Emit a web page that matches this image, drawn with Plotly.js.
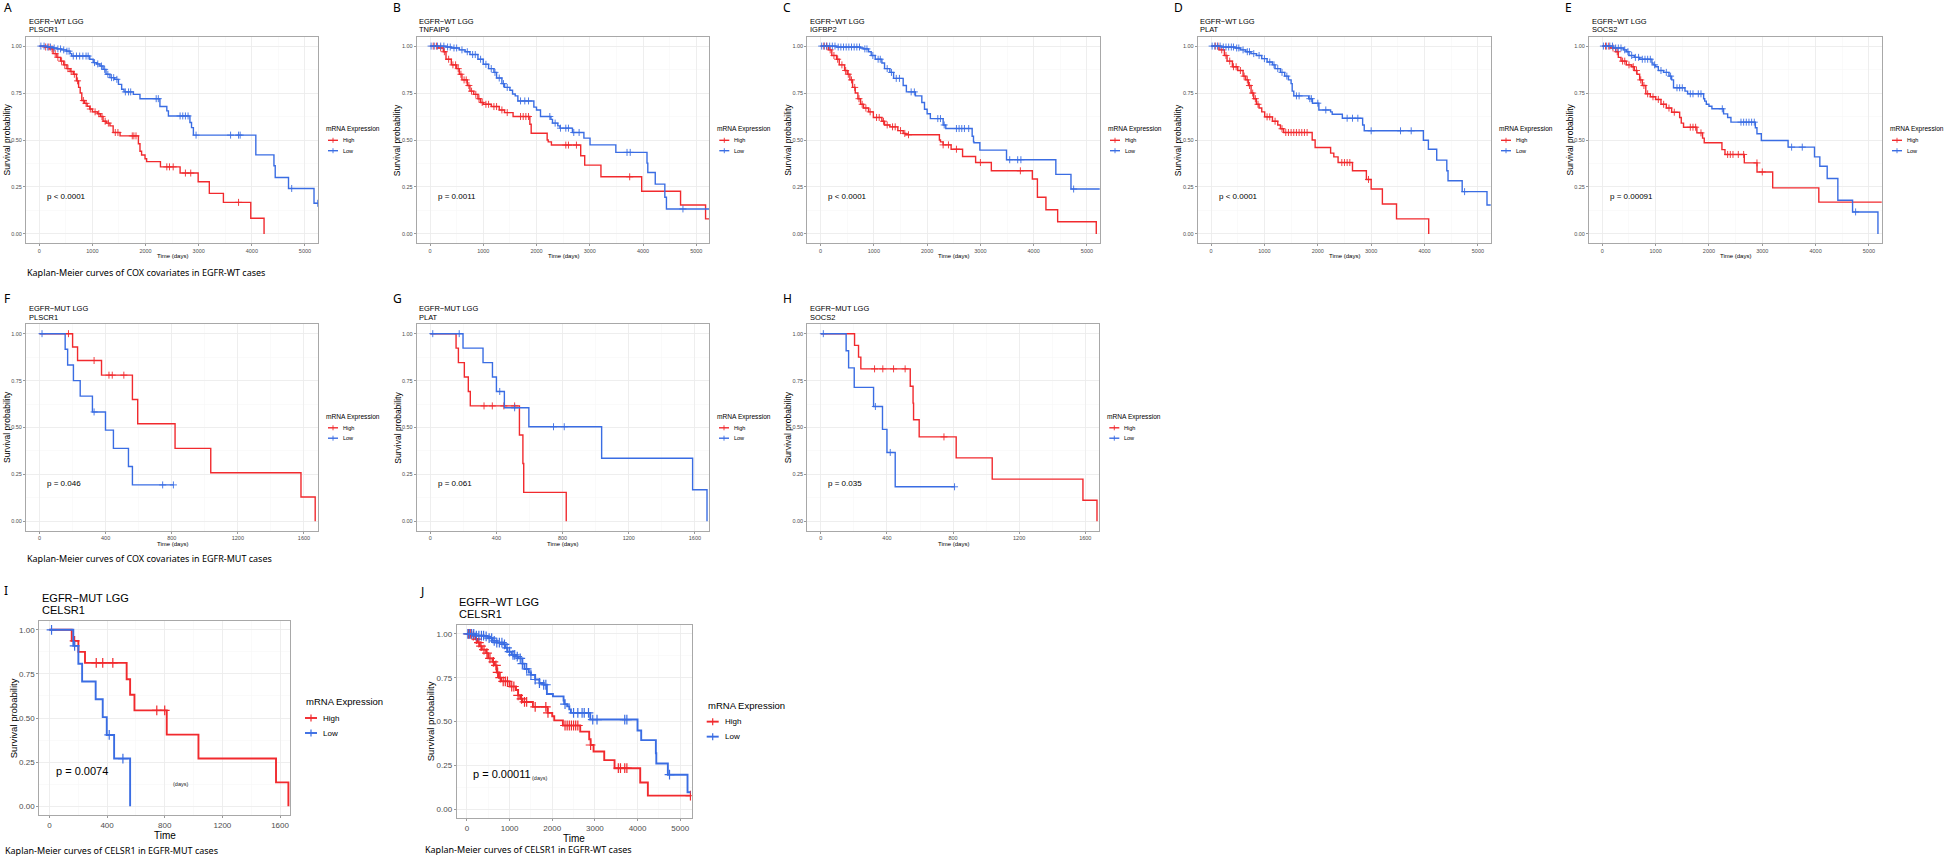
<!DOCTYPE html>
<html><head><meta charset="utf-8">
<script src="https://cdn.plot.ly/plotly-3.0.1.min.js"></script>
<style>html,body{margin:0;padding:0;background:#fff;}#chart{width:1946px;height:857px;}</style>
</head><body><div id="chart"></div>
<script>
// ---------------- DATA ----------------
const yTickVals = [0, 0.25, 0.5, 0.75, 1];
const yTickText = ['0.00', '0.25', '0.50', '0.75', '1.00'];
const xTicksWT = [0, 1000, 2000, 3000, 4000, 5000];
const xTicksMUT = [0, 400, 800, 1200, 1600];
const groupLabels = ['EGFR−WT LGG', 'EGFR−MUT LGG'];
const genes = ['PLSCR1', 'TNFAIP6', 'IGFBP2', 'PLAT', 'SOCS2', 'PLSCR1', 'PLAT', 'SOCS2', 'CELSR1', 'CELSR1'];
const pValues = ['p < 0.0001', 'p = 0.0011', 'p < 0.0001', 'p < 0.0001', 'p = 0.00091', 'p = 0.046', 'p = 0.061', 'p = 0.035', 'p = 0.0074', 'p = 0.00011'];
const seriesNames = ['High', 'Low'];
const captions = ['Kaplan-Meier curves of COX covariates in EGFR-WT cases', 'Kaplan-Meier curves of COX covariates in EGFR-MUT cases', 'Kaplan-Meier curves of CELSR1 in EGFR-MUT cases', 'Kaplan-Meier curves of CELSR1 in EGFR-WT cases'];
const panelLetters = ['A','B','C','D','E','F','G','H','I','J'];

// A: EGFR-WT PLSCR1
const aHighT = [0,100,200,260,330,400,460,520,580,640,700,740,770,800,850,900,950,1000,1100,1150,1200,1260,1330,1390,1520,1865,1895,1925,1990,2020,2280,2650,2990,3200,3465,3980,4230];
const aHighS = [1,0.995,0.985,0.96,0.94,0.92,0.90,0.88,0.865,0.85,0.815,0.78,0.75,0.71,0.695,0.68,0.665,0.65,0.64,0.625,0.60,0.59,0.575,0.54,0.522,0.48,0.44,0.42,0.40,0.385,0.357,0.324,0.278,0.216,0.168,0.083,0];
const aHighC = [120,180,240,300,350,420,480,540,600,660,720,830,880,960,1050,1120,1180,1240,1300,1430,1480,1750,1780,1820,2400,2450,2520,2750,2850,3750];
const aLowT = [0,150,260,330,420,510,580,610,950,1015,1080,1140,1200,1255,1330,1420,1490,1550,1595,1770,1895,2270,2400,2430,2835,2865,2900,4075,4416,4440,4690,5170,5240];
const aLowS = [1,0.995,0.99,0.985,0.98,0.973,0.96,0.947,0.93,0.912,0.905,0.894,0.876,0.85,0.832,0.823,0.796,0.77,0.756,0.743,0.72,0.678,0.655,0.628,0.593,0.566,0.526,0.421,0.363,0.30,0.242,0.163,0.163];
const aLowC = [30,90,160,210,280,350,400,460,520,560,640,700,760,820,880,920,1040,1100,1170,1230,1290,1360,1400,1460,1620,1680,1720,2200,2240,2650,2700,2750,2800,2950,3600,3750,3780,4750,5240];

// B: EGFR-WT TNFAIP6
const bHighT = [0,150,250,300,400,500,550,600,700,750,820,900,950,1000,1150,1300,1400,1560,1875,1900,2200,2220,2280,2830,2905,3210,3975,4705,5175,5240];
const bHighS = [1,0.99,0.97,0.93,0.90,0.88,0.85,0.82,0.79,0.76,0.743,0.72,0.70,0.69,0.678,0.66,0.646,0.625,0.584,0.536,0.50,0.49,0.473,0.416,0.366,0.304,0.227,0.154,0.08,0.08];
const bHighC = [60,120,200,270,350,430,480,530,580,640,680,730,780,860,920,980,1050,1100,1200,1250,1350,1450,1700,1750,1800,1850,2550,2600,2750,3750];
const bLowT = [0,300,400,550,660,750,900,1000,1100,1200,1250,1350,1400,1500,1550,1600,1650,1950,2000,2075,2270,2300,2400,2440,2675,2890,3005,3490,4075,4090,4230,4410,4440,5240];
const bLowS = [1,0.995,0.99,0.98,0.97,0.955,0.93,0.903,0.88,0.86,0.83,0.80,0.78,0.765,0.745,0.735,0.708,0.675,0.66,0.625,0.61,0.59,0.575,0.563,0.54,0.51,0.474,0.434,0.377,0.327,0.265,0.195,0.133,0.133];
const bLowC = [20,80,140,200,260,330,380,450,500,600,700,800,850,950,1050,1150,1220,1300,1380,1450,1700,1780,1850,2250,2350,2450,2550,2600,2700,2800,3700,3760,4750];

// C: EGFR-WT IGFBP2
const cHighT = [0,150,210,300,350,450,500,550,600,650,700,750,805,900,990,1150,1200,1300,1450,1550,1600,2230,2250,2300,2450,2665,2910,3205,3975,4070,4230,4450,5175];
const cHighS = [1,0.98,0.95,0.93,0.90,0.87,0.85,0.82,0.78,0.75,0.72,0.69,0.67,0.65,0.62,0.60,0.58,0.57,0.55,0.535,0.528,0.50,0.49,0.474,0.451,0.412,0.38,0.336,0.292,0.195,0.129,0.065,0];
const cHighC = [60,110,180,250,320,400,470,520,580,640,720,780,850,930,1050,1100,1180,1250,1350,1400,1500,1580,1650,2300,2400,2550,3000,3750];
const cLowT = [0,300,750,800,900,950,1025,1150,1200,1300,1370,1550,1610,1780,1900,1950,2000,2060,2300,2350,2845,2870,2880,2990,3490,4416,4700,5240];
const cLowS = [1,0.995,0.99,0.985,0.97,0.95,0.93,0.91,0.88,0.86,0.828,0.79,0.756,0.735,0.70,0.664,0.64,0.614,0.58,0.561,0.52,0.49,0.485,0.446,0.395,0.317,0.239,0.239];
const cLowC = [20,70,120,170,220,270,330,380,430,480,530,580,630,680,730,830,870,980,1080,1120,1250,1330,1420,1480,1700,1760,2200,2250,2320,2550,2600,2650,2700,2780,3550,3700,3760,4750];

// D: EGFR-WT PLAT
const dHighT = [0,150,250,300,400,500,600,650,700,750,800,850,900,950,1005,1150,1250,1300,1360,1895,1950,2240,2300,2380,2650,2910,3000,3210,3475,4078];
const dHighS = [1,0.98,0.95,0.92,0.89,0.87,0.84,0.82,0.79,0.75,0.72,0.69,0.67,0.65,0.623,0.60,0.58,0.56,0.54,0.50,0.46,0.43,0.41,0.38,0.336,0.29,0.239,0.159,0.08,0];
const dHighC = [80,130,200,280,350,420,470,550,620,680,720,780,830,880,1050,1100,1200,1330,1400,1450,1500,1550,1600,1650,1700,1750,1800,2450,2500,2550,2600,2950];
const dLowT = [0,200,450,550,650,750,850,950,1050,1150,1200,1300,1380,1450,1500,1520,1550,1830,1900,2020,2240,2270,2460,2840,2870,3978,4072,4228,4417,4440,4705,5170,5240];
const dLowS = [1,0.995,0.99,0.98,0.97,0.96,0.95,0.933,0.915,0.90,0.88,0.86,0.84,0.82,0.80,0.76,0.735,0.72,0.696,0.66,0.65,0.637,0.616,0.58,0.549,0.499,0.451,0.393,0.336,0.283,0.225,0.154,0.154];
const dLowC = [20,70,120,170,230,280,330,380,420,480,520,600,680,720,800,900,1000,1100,1180,1250,1330,1420,1600,1650,1850,1880,2000,2150,2550,2650,2750,3000,3550,3750,4750];

// E: EGFR-WT SOCS2
const eHighT = [0,150,250,300,350,450,550,600,650,700,750,815,900,1000,1100,1200,1300,1450,1480,1523,1773,1880,1911,2243,2300,2663,2901,3195,4060,5240];
const eHighS = [1,0.99,0.97,0.94,0.92,0.90,0.89,0.87,0.85,0.82,0.79,0.746,0.73,0.716,0.69,0.67,0.648,0.62,0.59,0.568,0.538,0.51,0.485,0.449,0.423,0.378,0.33,0.245,0.169,0.169];
const eHighC = [60,120,200,280,380,420,500,580,640,720,780,850,950,1050,1150,1250,1350,1650,1700,1750,1850,2350,2400,2450,2550,2650,2900,3000];
const eLowT = [0,200,400,450,500,600,700,930,950,1000,1050,1150,1250,1300,1335,1550,1600,1900,1920,1950,2000,2055,2274,2350,2412,2870,2900,2982,3484,3979,4079,4217,4417,4693,5169];
const eLowS = [1,0.99,0.98,0.97,0.95,0.94,0.93,0.91,0.90,0.89,0.87,0.86,0.84,0.82,0.778,0.76,0.746,0.72,0.707,0.69,0.68,0.666,0.639,0.62,0.595,0.565,0.533,0.497,0.462,0.41,0.36,0.295,0.179,0.117,0];
const eLowC = [20,80,140,190,250,300,350,420,480,550,620,680,750,800,850,900,980,1100,1200,1280,1400,1450,1500,1650,1700,1800,1850,2250,2600,2650,2700,2750,2800,2850,3550,3750,4750];

// F: EGFR-MUT PLSCR1
const fHighT = [0,200,230,375,562,594,820,1036,1582,1668];
const fHighS = [1,0.929,0.857,0.779,0.649,0.52,0.389,0.259,0.13,0];
const fHighC = [175,330,420,440,510];
const fLowT = [0,155,170,205,246,320,399,447,538,562,810];
const fLowS = [1,0.917,0.833,0.75,0.667,0.583,0.486,0.389,0.292,0.194,0.194];
const fLowC = [15,330,745,810];

// G: EGFR-MUT PLAT
const gHighT = [0,156,170,206,230,242,539,560,565,822];
const gHighS = [1,0.923,0.846,0.769,0.692,0.615,0.46,0.308,0.154,0];
const gHighC = [325,375,445,510];
const gLowT = [0,198,319,376,400,448,596,1036,1586,1673];
const gLowS = [1,0.923,0.846,0.769,0.692,0.605,0.504,0.336,0.168,0];
const gLowC = [15,175,420,510,745,810];

// H: EGFR-MUT SOCS2
const hHighT = [0,204,228,242,541,558,561,595,819,1037,1586,1671];
const hHighS = [1,0.9375,0.875,0.8125,0.72,0.63,0.541,0.45,0.338,0.225,0.112,0];
const hHighC = [325,375,440,510,745];
const hLowT = [0,153,168,202,319,373,400,450,809];
const hLowS = [1,0.909,0.818,0.714,0.612,0.49,0.367,0.184,0.184];
const hLowC = [15,330,420,809];

// I: EGFR-MUT CELSR1
const iHighT = [0,155,201,247,536,560,590,814,1034,1572,1658];
const iHighS = [1,0.9375,0.875,0.8125,0.72,0.632,0.543,0.406,0.27,0.135,0];
const iHighC = [175,325,370,440,745,800];
const iLowT = [0,166,201,227,321,370,398,449,560];
const iLowS = [1,0.909,0.808,0.707,0.606,0.505,0.404,0.27,0];
const iLowC = [15,175,415,510];

// J: EGFR-WT CELSR1
const jHighT = [0,100,200,250,300,350,450,500,600,650,700,750,800,1000,1150,1200,1250,1300,1547,1891,2000,2047,2250,2656,2867,2900,2969,3219,3461,4063,4242,5240];
const jHighS = [1,0.99,0.97,0.95,0.93,0.91,0.89,0.86,0.84,0.82,0.78,0.75,0.729,0.70,0.68,0.65,0.63,0.612,0.584,0.55,0.531,0.507,0.478,0.443,0.40,0.367,0.33,0.281,0.235,0.154,0.079,0.079];
const jHighC = [40,90,150,220,280,330,400,470,540,620,680,720,780,850,900,950,1050,1100,1200,1280,1350,1400,1600,1850,1900,2300,2350,2400,2450,2500,2550,2600,2900,3550,3600,3700,3750,5240];
const jLowT = [0,200,400,500,600,700,860,900,950,1050,1150,1200,1300,1350,1450,1500,1600,1700,1800,1875,2016,2266,2280,2350,2400,2438,2891,4000,4086,4430,4440,4711,5172,5240];
const jLowS = [1,0.99,0.985,0.975,0.96,0.95,0.94,0.92,0.898,0.88,0.87,0.86,0.83,0.80,0.78,0.766,0.74,0.72,0.71,0.657,0.644,0.62,0.60,0.588,0.57,0.55,0.512,0.45,0.395,0.32,0.262,0.198,0.098,0.098];
const jLowC = [20,60,110,160,220,280,340,390,450,520,580,640,700,760,820,880,940,1000,1080,1120,1180,1250,1300,1400,1500,1600,1700,1800,1850,2300,2500,2600,2700,2750,2850,2950,3050,3700,3750,4750];

// ---------------- LAYOUT / STYLE ----------------
const W = 1946, H = 857;
const RED = '#F12A2E', BLUE = '#3A6DE3';
const FONT = 'Liberation Sans, Arial, sans-serif';
const CAPFONT = 'Noto Sans, Open Sans, sans-serif';
const SMALL = {lw:1.4, ms:5, mw:0.9, tick:5.5, xt:6, yt:8.5, title:7.5, lgT:6.6, lgI:5.5, p:8, xtOff:13, ytOff:19.5,
  lg:{tx:6,k0:10,k1:20,txt:22.7,dyT:-10.7,dyH:0.3,dyL:10.7,plus:2.5}, titleDy:[-15.5,-7]};
const BIG = {lw:1.9, ms:7, mw:1.2, tick:8, xt:10, yt:9.5, title:11, lgT:9.5, lgI:8, p:11, xtOff:20, ytOff:26,
  lg:{tx:14,k0:15,k1:27,txt:31,dyT:-16.5,dyH:0,dyL:15,plus:3.5}, titleDy:[-23,-11]};

const panels = [
  {hi:[aHighT,aHighS,aHighC], lo:[aLowT,aLowS,aLowC], g:0, box:[26,318,36.7,243.3], xr:[-250,5245], xt:xTicksWT, xtitle:'Time (days)', st:SMALL, letter:[2,8]},
  {hi:[bHighT,bHighS,bHighC], lo:[bLowT,bLowS,bLowC], g:0, box:[416.7,709.3,36.7,243.3], xr:[-250,5245], xt:xTicksWT, xtitle:'Time (days)', st:SMALL, letter:[391,8]},
  {hi:[cHighT,cHighS,cHighC], lo:[cLowT,cLowS,cLowC], g:0, box:[807.3,1100,36.7,243.3], xr:[-250,5245], xt:xTicksWT, xtitle:'Time (days)', st:SMALL, letter:[781,8]},
  {hi:[dHighT,dHighS,dHighC], lo:[dLowT,dLowS,dLowC], g:0, box:[1197.7,1491,36.7,243.3], xr:[-250,5245], xt:xTicksWT, xtitle:'Time (days)', st:SMALL, letter:[1172,8]},
  {hi:[eHighT,eHighS,eHighC], lo:[eLowT,eLowS,eLowC], g:0, box:[1589,1882,36.7,243.3], xr:[-250,5245], xt:xTicksWT, xtitle:'Time (days)', st:SMALL, letter:[1563,8]},
  {hi:[fHighT,fHighS,fHighC], lo:[fLowT,fLowS,fLowC], g:1, box:[26,318,324.3,530.7], xr:[-82,1685], xt:xTicksMUT, xtitle:'Time (days)', st:SMALL, letter:[2,298]},
  {hi:[gHighT,gHighS,gHighC], lo:[gLowT,gLowS,gLowC], g:1, box:[416.7,709,324.3,530.7], xr:[-82,1685], xt:xTicksMUT, xtitle:'Time (days)', st:SMALL, letter:[391,298]},
  {hi:[hHighT,hHighS,hHighC], lo:[hLowT,hLowS,hLowC], g:1, box:[807.3,1099.3,324.3,530.7], xr:[-82,1685], xt:xTicksMUT, xtitle:'Time (days)', st:SMALL, letter:[781,298]},
  {hi:[iHighT,iHighS,iHighC], lo:[iLowT,iLowS,iLowC], g:1, box:[39.3,290,621,815], xr:[-70,1669], xt:xTicksMUT, xtitle:'Time', st:BIG, letter:[2,590], days:[906,0.125,'center']},
  {hi:[jHighT,jHighS,jHighC], lo:[jLowT,jLowS,jLowC], g:0, box:[456.7,691.7,625,818.3], xr:[-240,5270], xt:xTicksWT, xtitle:'Time', st:BIG, letter:[418,591], days:[1490,0.18,'left']}
];
const captionPos = [[25,272],[25,558],[3,850],[423,849]];

function stepAt(T, S, t) { let s = S[0]; for (let i = 0; i < T.length; i++) { if (T[i] <= t) s = S[i]; else break; } return s; }
const px = x => x / W, py = y => 1 - y / H;

const traces = [], annotations = [], shapes = [];
const layout = {width:W, height:H, margin:{l:0,r:0,t:0,b:0}, paper_bgcolor:'#ffffff', plot_bgcolor:'#ffffff', showlegend:false};

panels.forEach((p, i) => {
  const k = i + 1, sfx = k === 1 ? '' : String(k);
  const xr = 'x' + sfx, yr = 'y' + sfx, st = p.st;
  const [bx0, bx1, by0, by1] = p.box;
  const cols = [RED, BLUE];
  [p.hi, p.lo].forEach((d, j) => {
    traces.push({type:'scatter', mode:'lines', x:d[0], y:d[1], xaxis:xr, yaxis:yr,
      line:{shape:'hv', color:cols[j], width:st.lw}, hoverinfo:'skip', showlegend:false});
    traces.push({type:'scatter', mode:'markers', x:d[2], y:d[2].map(t => stepAt(d[0], d[1], t)), xaxis:xr, yaxis:yr,
      marker:{symbol:'cross-thin', size:st.ms, color:cols[j], line:{color:cols[j], width:st.mw}}, hoverinfo:'skip', showlegend:false, cliponaxis:true});
  });
  const common = {showline:true, mirror:true, linecolor:'#a8a8a8', linewidth:1, zeroline:false, fixedrange:true,
    ticks:'outside', ticklen:2, tickwidth:0.6, tickcolor:'#555555',
    tickfont:{family:FONT, size:st.tick, color:'#4d4d4d'}, showgrid:true, gridcolor:'#ebebeb', gridwidth:0.8};
  layout['xaxis' + sfx] = Object.assign({}, common, {domain:[px(bx0), px(bx1)], range:p.xr, anchor:yr,
    tickmode:'array', tickvals:p.xt, ticktext:p.xt.map(String),
    minor:{tickmode:'linear', tick0:0, dtick:p.xt[1] / 2, showgrid:true, gridcolor:'#f5f5f5', gridwidth:0.5, ticks:''}});
  layout['yaxis' + sfx] = Object.assign({}, common, {domain:[py(by1), py(by0)], range:[-0.05, 1.05], anchor:xr,
    tickmode:'array', tickvals:yTickVals, ticktext:yTickText,
    minor:{tickmode:'linear', tick0:0, dtick:0.125, showgrid:true, gridcolor:'#f5f5f5', gridwidth:0.5, ticks:''}});

  annotations.push({xref:'paper', yref:'paper', x:px(bx0 + 0.5), y:py(by0 + st.titleDy[0]), xanchor:'left', yanchor:'middle',
    text:groupLabels[p.g], showarrow:false, font:{family:FONT, size:st.title, color:'#000'}});
  annotations.push({xref:'paper', yref:'paper', x:px(bx0 + 0.5), y:py(by0 + st.titleDy[1]), xanchor:'left', yanchor:'middle',
    text:genes[i], showarrow:false, font:{family:FONT, size:st.title, color:'#000'}});
  annotations.push({xref:'paper', yref:'paper', x:px((bx0 + bx1) / 2), y:py(by1 + st.xtOff), xanchor:'center', yanchor:'middle',
    text:p.xtitle, showarrow:false, font:{family:FONT, size:st.xt, color:'#000'}});
  annotations.push({xref:'paper', yref:'paper', x:px(bx0 - st.ytOff), y:py((by0 + by1) / 2), xanchor:'center', yanchor:'middle',
    text:'Survival probability', textangle:-90, showarrow:false, font:{family:FONT, size:st.yt, color:'#000'}});
  annotations.push({xref:xr, yref:yr, x:p.xr[1] / 50, y:0.2, xanchor:'left', yanchor:'middle',
    text:pValues[i], showarrow:false, font:{family:FONT, size:st.p, color:'#000'}});
  if (p.days) {
    annotations.push({xref:xr, yref:yr, x:p.days[0], y:p.days[1], xanchor:p.days[2], yanchor:'middle',
      text:'(days)', showarrow:false, font:{family:FONT, size:5.5, color:'#222'}});
  }
  annotations.push({xref:'paper', yref:'paper', x:px(p.letter[0]), y:py(p.letter[1]), xanchor:'left', yanchor:'middle',
    text:panelLetters[i], showarrow:false, font:{family:CAPFONT, size:12, color:'#000'}});
  const cy = (by0 + by1) / 2, lg = st.lg;
  annotations.push({xref:'paper', yref:'paper', x:px(bx1 + lg.tx), y:py(cy + lg.dyT), xanchor:'left', yanchor:'middle',
    text:'mRNA Expression', showarrow:false, font:{family:FONT, size:st.lgT, color:'#000'}});
  [lg.dyH, lg.dyL].forEach((dy, j) => {
    const yy = cy + dy;
    shapes.push({type:'line', xref:'paper', yref:'paper', x0:px(bx1 + lg.k0), x1:px(bx1 + lg.k1), y0:py(yy), y1:py(yy),
      line:{color:cols[j], width:st.lw}});
    const xm = bx1 + (lg.k0 + lg.k1) / 2;
    shapes.push({type:'line', xref:'paper', yref:'paper', x0:px(xm), x1:px(xm), y0:py(yy - lg.plus), y1:py(yy + lg.plus),
      line:{color:cols[j], width:st.mw}});
    annotations.push({xref:'paper', yref:'paper', x:px(bx1 + lg.txt), y:py(yy), xanchor:'left', yanchor:'middle',
      text:seriesNames[j], showarrow:false, font:{family:FONT, size:st.lgI, color:'#000'}});
  });
});

captions.forEach((c, i) => {
  annotations.push({xref:'paper', yref:'paper', x:px(captionPos[i][0]), y:py(captionPos[i][1]), xanchor:'left', yanchor:'middle',
    text:c, showarrow:false, font:{family:CAPFONT, size:9, color:'#000'}});
});

layout.annotations = annotations;
layout.shapes = shapes;
Plotly.newPlot('chart', traces, layout, {displayModeBar:false, staticPlot:true});
</script>
</body></html>
